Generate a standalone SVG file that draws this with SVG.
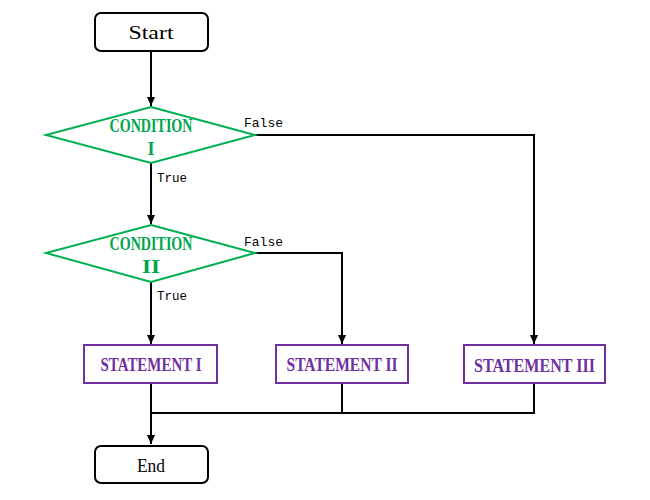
<svg xmlns="http://www.w3.org/2000/svg" width="650" height="500" viewBox="0 0 650 500">
<defs>
<marker id="arr" markerWidth="10" markerHeight="10" refX="9" refY="5" orient="auto" markerUnits="userSpaceOnUse">
<path d="M0,1 L9,5 L0,9 Z" fill="#000"/>
</marker>
<style>
.term{fill:#fff;stroke:#000;stroke-width:2}
.dec{fill:#fff;stroke:#00B050;stroke-width:2}
.stm{fill:#fff;stroke:#7030A0;stroke-width:2}
.conn{fill:none;stroke:#000;stroke-width:2}
.t{font-family:"Liberation Serif",serif;font-size:18px;fill:#000;text-anchor:middle}
.ct{font-family:"Liberation Serif",serif;font-size:18px;font-weight:bold;fill:#00A550;text-anchor:middle}
.st{font-family:"Liberation Serif",serif;font-size:18px;font-weight:bold;fill:#7030A0;text-anchor:middle}
.lb{font-family:"Liberation Mono",monospace;font-size:13px;fill:#000}
</style>
</defs>
<rect width="650" height="500" fill="#fff"/>
<g id="connectors">
<path class="conn" d="M151,51 V106" marker-end="url(#arr)"/>
<path class="conn" d="M151,163 V224" marker-end="url(#arr)"/>
<path class="conn" d="M255,135 H534 V344" marker-end="url(#arr)"/>
<path class="conn" d="M151,282 V344" marker-end="url(#arr)"/>
<path class="conn" d="M255,253 H342 V344" marker-end="url(#arr)"/>
<path class="conn" d="M151,383 V444" marker-end="url(#arr)"/>
<path class="conn" d="M342,383 V413 M534,383 V413 H151"/>
<text class="lb" x="244" y="127" textLength="39" lengthAdjust="spacingAndGlyphs">False</text>
<text class="lb" x="157" y="182" textLength="30" lengthAdjust="spacingAndGlyphs">True</text>
<text class="lb" x="244" y="246" textLength="39" lengthAdjust="spacingAndGlyphs">False</text>
<text class="lb" x="157" y="300" textLength="30" lengthAdjust="spacingAndGlyphs">True</text>
</g>
<g id="start">
<rect class="term" x="95" y="13" width="113" height="38" rx="6"/>
<text class="t" x="151" y="39" textLength="45" lengthAdjust="spacingAndGlyphs">Start</text>
</g>
<g id="cond1">
<polygon class="dec" points="151,107 255,135 151,163 46,135"/>
<text class="ct" x="151" y="132" textLength="83" lengthAdjust="spacingAndGlyphs">CONDITION</text>
<text class="ct" x="151" y="155">I</text>
</g>
<g id="cond2">
<polygon class="dec" points="151,225 255,253 151,282 46,253"/>
<text class="ct" x="151" y="250" textLength="83" lengthAdjust="spacingAndGlyphs">CONDITION</text>
<text class="ct" x="151" y="273" textLength="18" lengthAdjust="spacingAndGlyphs">II</text>
</g>
<g id="stmt1">
<rect class="stm" x="84" y="345" width="133" height="38"/>
<text class="st" x="151" y="371" textLength="101" lengthAdjust="spacingAndGlyphs">STATEMENT I</text>
</g>
<g id="stmt2">
<rect class="stm" x="276" y="345" width="132" height="38"/>
<text class="st" x="342" y="371" textLength="111" lengthAdjust="spacingAndGlyphs">STATEMENT II</text>
</g>
<g id="stmt3">
<rect class="stm" x="464" y="345" width="141" height="38"/>
<text class="st" x="534.5" y="372" textLength="121" lengthAdjust="spacingAndGlyphs">STATEMENT III</text>
</g>
<g id="end">
<rect class="term" x="95" y="446" width="113" height="37" rx="6"/>
<text class="t" x="151" y="472" textLength="28" lengthAdjust="spacingAndGlyphs">End</text>
</g>
</svg>
